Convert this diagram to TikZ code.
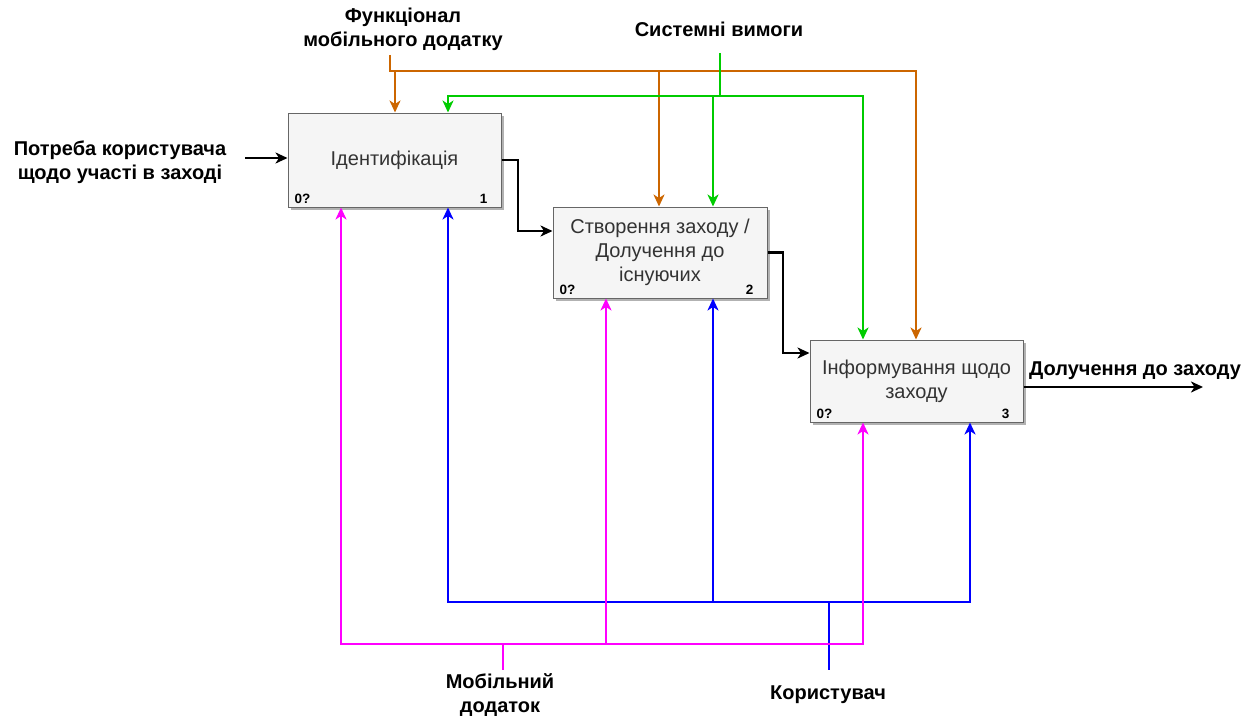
\documentclass[tikz,border=0pt]{standalone}
\usepackage{fontspec}
\setmainfont{Liberation Sans}
\usetikzlibrary{arrows.meta,shadows}

\definecolor{ctrlorange}{HTML}{CC6600}
\definecolor{ctrlgreen}{HTML}{00CC00}
\definecolor{mechpink}{HTML}{FF00FF}
\definecolor{mechblue}{HTML}{0000FF}
\definecolor{boxfill}{HTML}{F5F5F5}
\definecolor{boxline}{HTML}{666666}
\definecolor{boxtext}{HTML}{333333}

\begin{document}
\begin{tikzpicture}[x=1pt,y=-1pt,
  tip/.style={-{Stealth[length=12pt,width=11pt,inset=3.5pt]}},
  twotip/.style={{Stealth[length=12pt,width=11pt,inset=3.5pt]}-{Stealth[length=12pt,width=11pt,inset=3.5pt]}},
  wire/.style={line width=2.3pt},
  func/.style={draw=boxline, fill=boxfill, line width=1pt, inner sep=0pt,
    text=boxtext, align=center, font=\fontsize{20}{24}\selectfont,
    drop shadow={shadow xshift=2.5pt, shadow yshift=-2.5pt, fill=black, opacity=0.3}},
  lbl/.style={font=\bfseries\fontsize{20}{24}\selectfont, align=center, inner sep=0pt},
  tag/.style={font=\bfseries\fontsize{13.5}{15}\selectfont, inner sep=0pt}]

\useasboundingbox (0,0) rectangle (1249,717);

% activity boxes
\node[func, minimum width=213pt, minimum height=94pt] (b1) at (394.5,160) {Ідентифікація};
\node[func, minimum width=214pt, minimum height=91pt] (b2) at (660,252.5) {Створення заходу /\\Долучення до\\існуючих};
\node[func, minimum width=213pt, minimum height=82pt] (b3) at (916.5,381) {Інформування щодо\\заходу};

\foreach \b/\n in {b1/1,b2/2,b3/3}{
  \node[tag, anchor=west] at ([xshift=7pt,yshift=9pt]\b.south west) {0?};
  \node[tag, anchor=east] at ([xshift=-14pt,yshift=9pt]\b.south east) {\n};
}

% boundary labels
\node[lbl] (lfunc) at (403,29) {Функціонал\\мобільного додатку};
\node[lbl] (lsys) at (719,29) {Системні вимоги};
\node[lbl] (lneed) at (120,162) {Потреба користувача\\щодо участі в заході};
\node[lbl] (lout) at (1135,371) {Долучення до заходу};
\node[lbl] (lapp) at (500,695) {Мобільний\\додаток};
\node[lbl] (luser) at (828,695) {Користувач};

% junction points
\coordinate (inL) at (245,158);
\coordinate (e12) at (518,231);
\coordinate (e23) at (783,353);
\coordinate (outR) at (1203,387);

\coordinate (o0) at (390,55);
\coordinate (o1) at (390,71);
\coordinate (oa) at (395,71);
\coordinate (ob) at (659,71);
\coordinate (oc) at (916,71);

\coordinate (g0) at (720,53);
\coordinate (g1) at (720,96);
\coordinate (ga) at (448,96);
\coordinate (gb) at (713,96);
\coordinate (gc) at (863,96);

\coordinate (ma) at (341,644);
\coordinate (mb) at (606,644);
\coordinate (mc) at (863,644);
\coordinate (ms) at (503,644);
\coordinate (me) at (503,670);

\coordinate (ua) at (448,602);
\coordinate (ub) at (713,602);
\coordinate (uc) at (970,602);
\coordinate (us) at (829,602);
\coordinate (ue) at (829,670);

% inputs and outputs
\draw[wire, tip] (inL) -- (inL -| b1.west);
\draw[wire, tip] (b1.east) -| (e12) -- (e12 -| b2.west);
\draw[wire, tip] (b2.east) -| (e23) -- (e23 -| b3.west);
\draw[wire, tip] (outR -| b3.east) -- (outR);

% controls
\draw[wire, ctrlorange, tip] (o0) -- (o1) -- (oc) -- (oc |- b3.north);
\draw[wire, ctrlorange, tip] (oa) -- (oa |- b1.north);
\draw[wire, ctrlorange, tip] (ob) -- (ob |- b2.north);

\draw[wire, ctrlgreen] (g0) -- (g1);
\draw[wire, ctrlgreen, twotip] (ga |- b1.north) -- (ga) -- (gc) -- (gc |- b3.north);
\draw[wire, ctrlgreen, tip] (gb) -- (gb |- b2.north);

% mechanisms
\draw[wire, mechblue, twotip] (ua |- b1.south) -- (ua) -- (uc) -- (uc |- b3.south);
\draw[wire, mechblue, tip] (ub) -- (ub |- b2.south);
\draw[wire, mechblue] (us) -- (ue);

\draw[wire, mechpink, twotip] (ma |- b1.south) -- (ma) -- (mc) -- (mc |- b3.south);
\draw[wire, mechpink, tip] (mb) -- (mb |- b2.south);
\draw[wire, mechpink] (ms) -- (me);

\end{tikzpicture}
\end{document}
